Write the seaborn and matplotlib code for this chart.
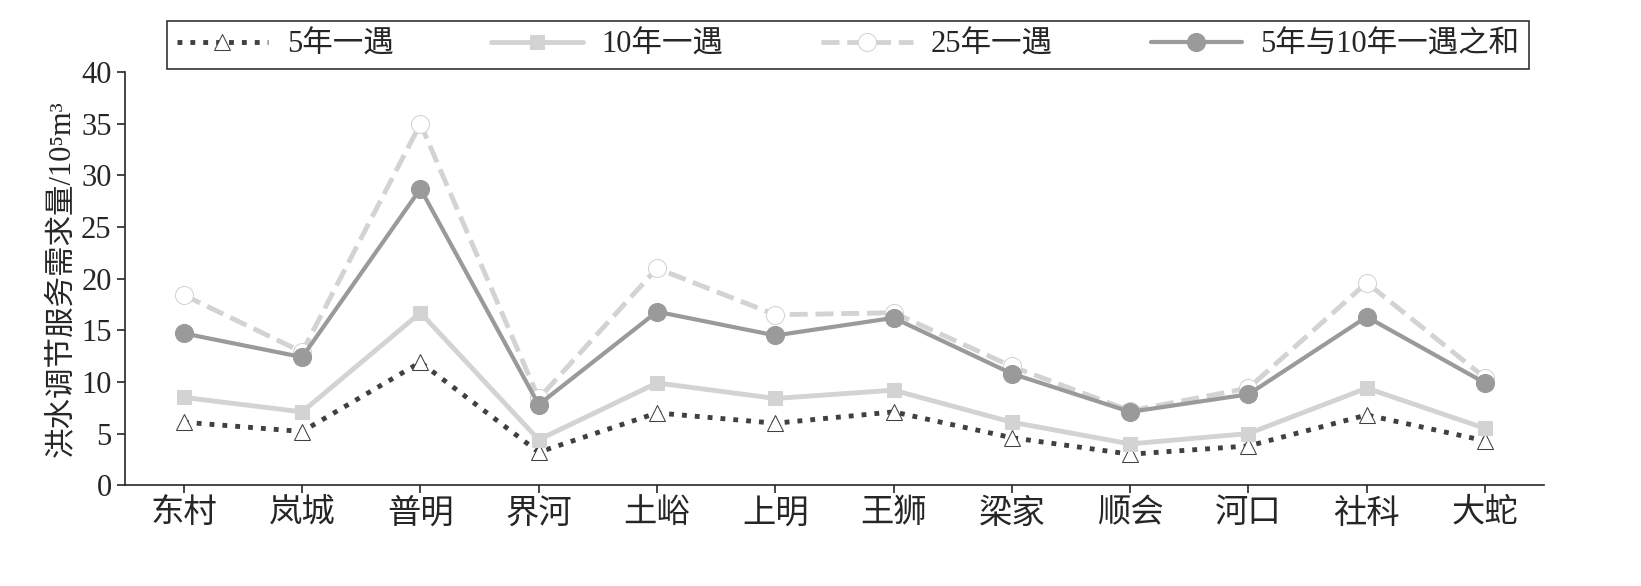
import numpy as np
import pandas as pd
import seaborn as sns
import matplotlib.pyplot as plt

sites = ['东村', '岚城', '普明', '界河', '土峪', '上明', '王狮', '梁家', '顺会', '河口', '社科', '大蛇']
y5 = [6.1, 5.2, 11.9, 3.2, 7.0, 6.0, 7.1, 4.6, 3.0, 3.8, 6.8, 4.3]
y10 = [8.5, 7.1, 16.7, 4.4, 9.9, 8.4, 9.2, 6.1, 4.0, 5.0, 9.4, 5.5]
y25 = [18.4, 12.9, 35.0, 8.4, 21.0, 16.5, 16.7, 11.5, 7.2, 9.4, 19.6, 10.4]
ysum = [14.7, 12.4, 28.7, 7.8, 16.8, 14.5, 16.2, 10.8, 7.1, 8.8, 16.3, 9.9]
names = ['5年一遇', '10年一遇', '25年一遇', '5年与10年一遇之和']

sns.set_style('ticks')
plt.rcParams['font.family'] = ['Liberation Serif', 'Noto Sans CJK SC']
plt.rcParams['font.size'] = 22

fig = plt.figure(figsize=(16.41, 5.86), dpi=100)
ax = fig.add_axes([0.076, 0.172, 0.865, 0.705])
x = np.arange(len(sites))

styles = [
    dict(color='#404040', ls=':', marker='^', mfc='white', mec='#404040', ms=11, lw=3.5),
    dict(color='#d3d3d3', ls='-', marker='s', mfc='#d3d3d3', mec='#d3d3d3', ms=10, lw=3.5),
    dict(color='#d3d3d3', ls='--', dashes=(6, 3), marker='o', mfc='white', mec='#d3d3d3', ms=13, lw=3.5),
    dict(color='#9a9a9a', ls='-', marker='o', mfc='#9a9a9a', mec='#9a9a9a', ms=13, lw=3),
]
for vals, name, st in zip([y5, y10, y25, ysum], names, styles):
    df = pd.DataFrame({'x': x, 'y': vals})
    sns.lineplot(data=df, x='x', y='y', ax=ax, label=name, **st)

ax.set_xlim(-0.5, len(sites) - 0.5)
ax.set_ylim(0, 40)
ax.set_yticks(range(0, 41, 5))
ax.set_xticks(x)
ax.set_xticklabels(sites, fontsize=24)
ax.set_xlabel('')
ax.set_ylabel('洪水调节服务需求量/10⁵m³', fontsize=22)
ax.tick_params(direction='out', length=6, width=1.2)
for s in ['top', 'right']:
    ax.spines[s].set_visible(False)
ax.spines['left'].set_linewidth(1.2)
ax.spines['bottom'].set_linewidth(1.2)

leg = ax.legend(loc='upper right', bbox_to_anchor=(1.0, 1.16), ncol=4, frameon=True,
                fancybox=False, edgecolor='black', fontsize=22, handlelength=3.0,
                handletextpad=0.6, columnspacing=3.2, borderpad=0.3)
leg.get_frame().set_linewidth(1.2)

fig.savefig('out.png', dpi=100)
